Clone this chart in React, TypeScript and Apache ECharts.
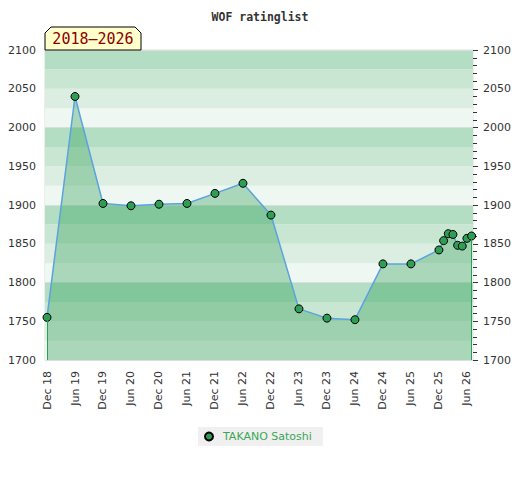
import React, { useEffect, useRef } from "react";
import * as echarts from "echarts";

// months since Dec 2018
const months = [0, 6, 12, 18, 24, 30, 36, 42, 48, 54, 60, 66, 72, 78, 84, 85, 86, 87, 88, 89, 90, 91];
const ratings = [1755, 2040, 1902, 1899, 1901, 1902, 1915, 1928, 1887, 1766, 1754, 1752, 1824, 1824, 1842, 1854, 1863, 1862, 1848, 1847, 1857, 1860];
const tickMonths = [0, 6, 12, 18, 24, 30, 36, 42, 48, 54, 60, 66, 72, 78, 84, 90];
const monthNames = ["Jan", "Feb", "Mar", "Apr", "May", "Jun", "Jul", "Aug", "Sep", "Oct", "Nov", "Dec"];
const bandColors = ["#eef7f1", "#dcede2", "#c9e6d3", "#b3dec4"];
const playerName = "TAKANO Satoshi";
const rangeLabel = "2018–2026";
const chartTitle = "WOF ratinglist";

function monthLabel(m: number): string {
  const total = 2018 * 12 + 11 + Math.round(m);
  const y = Math.floor(total / 12);
  const mo = total % 12;
  return monthNames[mo] + " " + String(y % 100).padStart(2, "0");
}

export default function App() {
  const ref = useRef<HTMLDivElement>(null);
  useEffect(() => {
    if (!ref.current) return;
    const chart = echarts.init(ref.current, null, { renderer: "svg" });
    const data = months.map((m, i) => [m, ratings[i]]);
    const first = data[0];
    const last = data[data.length - 1];
    const labelFont = "DejaVu Sans";
    const plain = (v: number) => String(v);
    chart.setOption({
      animation: false,
      backgroundColor: "#ffffff",
      title: {
        text: chartTitle,
        left: "center",
        top: 6,
        textStyle: { fontFamily: "DejaVu Sans Mono", fontWeight: "bold", fontSize: 11.5, color: "#333" },
      },
      legend: {
        data: [playerName],
        left: 198,
        top: 427,
        icon: "circle",
        itemWidth: 18,
        itemHeight: 8,
        backgroundColor: "#f0f0f0",
        padding: [4, 11, 4, 6],
        textStyle: { fontFamily: labelFont, fontSize: 11, color: "#3aa757" },
      },
      grid: {
        left: 45,
        right: 47,
        top: 50,
        bottom: 120,
        show: true,
        borderColor: "#dddddd",
        borderWidth: 1,
        backgroundColor: "transparent",
      },
      xAxis: {
        type: "value",
        min: -0.43,
        max: 91.3,
        axisLine: { show: false },
        axisTick: { show: false },
        splitLine: { show: false },
        axisLabel: {
          customValues: tickMonths,
          rotate: 90,
          margin: 11,
          fontFamily: labelFont,
          fontSize: 11,
          color: "#333",
          formatter: (v: number) => monthLabel(v),
        },
      },
      yAxis: [
        {
          type: "value",
          position: "left",
          min: 1700,
          max: 2100,
          interval: 50,
          axisLine: { show: false },
          axisTick: { show: false },
          splitLine: { show: false },
          axisLabel: { fontFamily: labelFont, fontSize: 11, color: "#333", margin: 9, formatter: plain },
        },
        {
          type: "value",
          position: "right",
          min: 1700,
          max: 2100,
          interval: 50,
          axisLine: { show: false },
          axisTick: { show: true, length: 5, lineStyle: { color: "#333" } },
          minorTick: { show: true, splitNumber: 5, length: 4, lineStyle: { color: "#333" } },
          splitLine: { show: false },
          axisLabel: { fontFamily: labelFont, fontSize: 11, color: "#333", margin: 10, formatter: plain },
        },
        {
          type: "value",
          position: "left",
          min: 1700,
          max: 2100,
          interval: 25,
          axisLine: { show: false },
          axisTick: { show: false },
          axisLabel: { show: false },
          splitLine: { show: false },
          splitArea: { show: true, areaStyle: { color: bandColors } },
        },
        {
          type: "value",
          position: "left",
          min: 1700,
          max: 2100,
          interval: 100,
          axisLine: { show: false },
          axisTick: { show: false },
          axisLabel: { show: false },
          splitLine: { show: true, lineStyle: { color: "#d9dfdb", width: 1 } },
        },
      ],
      series: [
        {
          name: playerName,
          type: "line",
          yAxisIndex: 0,
          data,
          symbol: "circle",
          symbolSize: 8,
          itemStyle: { color: "#2e9e55", borderColor: "#000", borderWidth: 1 },
          lineStyle: { color: "#5aa2e0", width: 1.5 },
          areaStyle: { color: "rgba(28,150,68,0.46)", origin: "start" },
          markLine: {
            silent: true,
            symbol: "none",
            label: { show: false },
            lineStyle: { color: "#2e9e55", width: 1, type: "solid" },
            data: [
              [{ coord: [first[0], 1700] }, { coord: [first[0], first[1]] }],
              [{ coord: [last[0], 1700] }, { coord: [last[0], last[1]] }],
            ],
          },
          z: 3,
        },
      ],
      graphic: [
        {
          type: "polygon",
          shape: {
            points: [
              [45, 33],
              [51, 27],
              [135, 27],
              [141, 33],
              [141, 50],
              [45, 50],
            ],
          },
          style: { fill: "#ffffcc", stroke: "#000", lineWidth: 1 },
          z: 10,
        },
        {
          type: "text",
          x: 93,
          y: 39,
          style: {
            text: rangeLabel,
            fill: "#8b0000",
            font: "15px 'DejaVu Sans Mono'",
            textAlign: "center",
            textVerticalAlign: "middle",
          },
          z: 11,
        },
      ],
    });
    return () => chart.dispose();
  }, []);
  return <div ref={ref} style={{ position: "fixed", left: 0, top: 0, width: 520, height: 480 }} />;
}
